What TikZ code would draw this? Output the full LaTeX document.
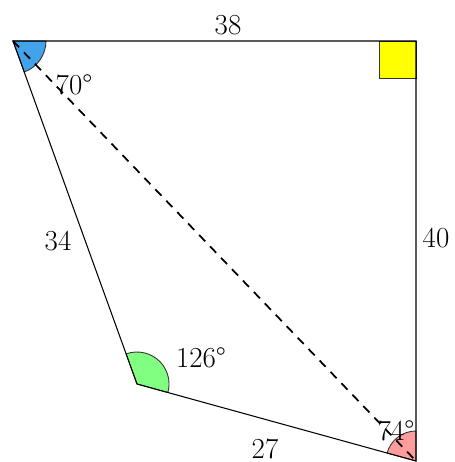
\documentclass[tikz,border=0pt]{standalone}
\usepackage{fontspec}
\usepackage{tikz}
\usetikzlibrary{positioning,calc}
\definecolor{angA}{HTML}{42A2EA}
\definecolor{angB}{HTML}{FFFF00}
\definecolor{angC}{HTML}{FF9C9C}
\definecolor{angD}{HTML}{80FF80}
\tikzset{
  side/.style={line width=0.6pt, draw=black},
  diag/.style={line width=1pt, dash pattern=on 5pt off 4pt},
  wedge/.style={draw=black!80, line width=0.5pt, fill=#1},
  lbl/.style={font=\fontsize{16.5}{19}\selectfont, inner sep=1pt},
}

\begin{document}
\begin{tikzpicture}[x=0.02cm, y=0.02cm]
  \useasboundingbox (0,0) rectangle (455,462);
  % corners of the quadrilateral
  \coordinate (A) at (13,421);
  \coordinate (B) at (416,421);
  \coordinate (C) at (416,1);
  \coordinate (D) at (137,78);
  % angle marks
  \draw[wedge=angA] (A) -- ++(0:0.66cm) arc[start angle=0, end angle=-70, radius=0.66cm] -- cycle;
  \draw[wedge=angB] (B) rectangle ++(-0.74cm,-0.74cm);
  \draw[wedge=angD] (D) -- ++(-15.4:0.64cm) arc[start angle=-15.4, end angle=109.9, radius=0.64cm] -- cycle;
  \draw[wedge=angC] (C) -- ++(90:0.6cm) arc[start angle=90, end angle=164.6, radius=0.6cm] -- cycle;
  % sides
  \draw[side] (A) -- (B) -- (C) -- (D) -- cycle;
  % labels
  \node[lbl] (ab) at (228,437) {38};
  \node[lbl] (bc) at (436,224) {40};
  \node[lbl] (ad) at (58,221) {34};
  \node[lbl] (dc) at (265,13) {27};
  \node[lbl] (ta) at (74,377) {70°};
  \node[lbl] (td) at (201,104) {126°};
  \node[lbl] (tc) at (396,31) {74°};
  % diagonal
  \draw[diag] (A) -- (C);
\end{tikzpicture}
\end{document}
